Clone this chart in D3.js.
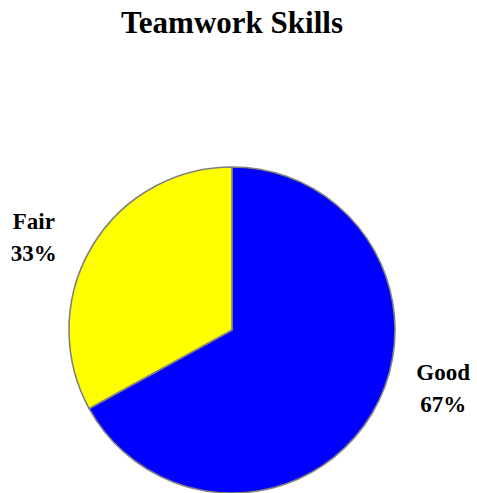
<!DOCTYPE html>
<html>
<head>
<meta charset="utf-8">
<script src="https://cdn.jsdelivr.net/npm/d3@7"></script>
<style>
  html, body { margin: 0; padding: 0; background: #fff; }
  svg { display: block; }
  text { font-family: "Times New Roman", Times, "Liberation Serif", serif; font-weight: bold; fill: #000; }
</style>
</head>
<body>
<script>
// Rating categories and their share of responses (percent)
const categories = ["Good", "Fair"];
const values = [67, 33];
const colors = ["#0000FF", "#FFFF00"];
const title = "Teamwork Skills";

const width = 477, height = 493;
const cx = 232, cy = 330, radius = 163;

const svg = d3.select("body").append("svg")
  .attr("width", width)
  .attr("height", height);

svg.append("text")
  .attr("x", cx)
  .attr("y", 33)
  .attr("text-anchor", "middle")
  .style("font-size", "31px")
  .text(title);

const data = categories.map((c, i) => ({ category: c, value: values[i], color: colors[i] }));

const pie = d3.pie().sort(null).value(d => d.value)
  .startAngle(0).endAngle(2 * Math.PI);
const arcs = pie(data);

const arc = d3.arc().innerRadius(0).outerRadius(radius);

const g = svg.append("g").attr("transform", `translate(${cx},${cy})`);

g.selectAll("path.slice")
  .data(arcs)
  .join("path")
  .attr("class", "slice")
  .attr("d", arc)
  .attr("fill", d => d.data.color)
  .attr("stroke", "#808080")
  .attr("stroke-width", 1.6)
  .attr("stroke-linejoin", "round");

// Labels sit outside the rim, nudged counter-clockwise from the slice middle
const labelRadius = 219;
const labelShift = { Good: -15.2, Fair: -5.4 }; // degrees
const labelPos = d => {
  const mid = (d.startAngle + d.endAngle) / 2 + labelShift[d.data.category] * Math.PI / 180;
  return [Math.sin(mid) * labelRadius, -Math.cos(mid) * labelRadius];
};

const labels = g.selectAll("text.label")
  .data(arcs)
  .join("text")
  .attr("class", "label")
  .attr("text-anchor", "middle")
  .style("font-size", "23px")
  .attr("transform", d => `translate(${labelPos(d)})`);

labels.append("tspan")
  .attr("x", 0)
  .attr("y", -8)
  .text(d => d.data.category);

labels.append("tspan")
  .attr("x", 0)
  .attr("y", 24)
  .text(d => `${d.data.value}%`);
</script>
</body>
</html>
